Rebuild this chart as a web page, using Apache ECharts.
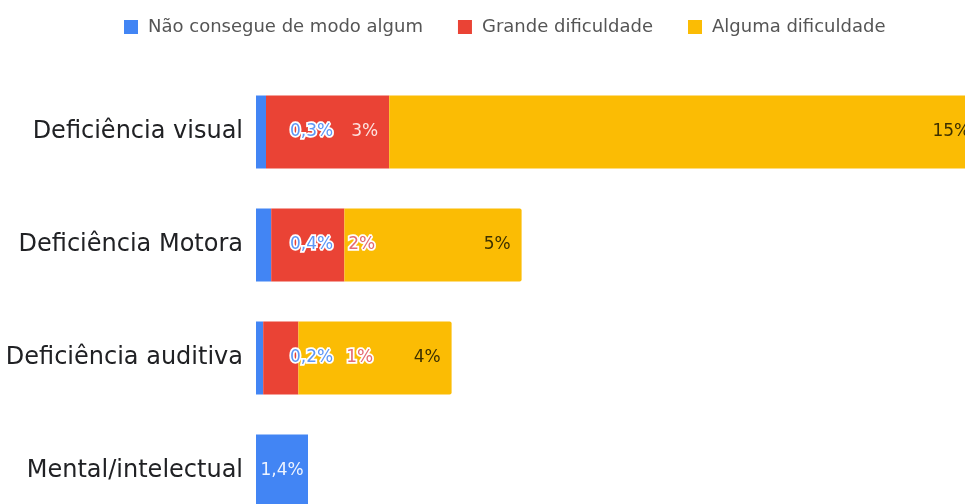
<!DOCTYPE html>
<html>
<head>
<meta charset="utf-8">
<script src="https://cdn.jsdelivr.net/npm/echarts@6/dist/echarts.min.js"></script>
<style>
  html, body { margin: 0; padding: 0; background: #fff; }
  #chartDiv { width: 965px; height: 504px; }
</style>
</head>
<body>
<div id="chartDiv"></div>
<script>
var categories = ["Deficiência visual", "Deficiência Motora", "Deficiência auditiva", "Mental/intelectual"];
var seriesNames = ["Não consegue de modo algum", "Grande dificuldade", "Alguma dificuldade"];

// bar lengths (percent)
var naoConsegue = [0.25, 0.38, 0.18, 1.3];
var grande = [3.08, 1.83, 0.88, null];
var alguma = [14.8, 4.43, 3.83, null];

// texts printed on the bars
var naoConsegueLabels = ["0,3%", "0,4%", "0,2%", "1,4%"];
var grandeLabels = ["3%", "2%", "1%", ""];
var algumaLabels = ["15%", "5%", "4%", ""];

var colors = ["#4285f4", "#ea4335", "#fbbc04"];
var font = "DejaVu Sans";

var halo = { textBorderColor: "#fff", textBorderWidth: 3.5 };

var chartDiv = document.getElementById("chartDiv");
var myChart = echarts.init(chartDiv);

function withLabels(vals, texts, labelFor) {
  return vals.map(function (v, i) {
    var lab = labelFor(i);
    lab.formatter = texts[i];
    return { value: v, label: lab };
  });
}

var blueData = withLabels(naoConsegue, naoConsegueLabels, function (i) {
  if (i === 3) return { position: "inside", color: "#eef4ff" };
  return Object.assign({ position: "insideLeft", distance: 34, color: "#5e97f6" }, halo);
});

var redData = withLabels(grande, grandeLabels, function (i) {
  if (i === 0) return { position: "insideRight", distance: 11, color: "#fde2df" };
  var d = i === 1 ? 77 : 83;
  return Object.assign({ position: "insideLeft", distance: d, color: "#e56b73" }, halo);
});

var yellowData = withLabels(alguma, algumaLabels, function (i) {
  return { position: "insideRight", distance: 11, color: "#3d3000" };
});

var option = {
  backgroundColor: "#fff",
  animation: false,
  color: colors,
  textStyle: { fontFamily: font },
  legend: {
    left: 119,
    top: 13,
    itemWidth: 14,
    itemHeight: 14,
    itemGap: 35,
    icon: "rect",
    textStyle: { fontSize: 18, color: "#555", fontFamily: font, padding: [0, 0, 0, 5] },
    data: seriesNames
  },
  // the chart runs past the right edge, as in the picture
  grid: { left: 256, top: 75.5, width: 800, height: 452, outerBoundsMode: "none" },
  xAxis: {
    type: "value",
    min: 0,
    max: 20,
    show: false
  },
  yAxis: {
    type: "category",
    inverse: true,
    data: categories,
    axisLine: { show: false },
    axisTick: { show: false },
    axisLabel: { fontSize: 24, color: "#202124", margin: 13, fontFamily: font }
  },
  series: [
    {
      name: seriesNames[0],
      type: "bar",
      stack: "total",
      barWidth: 73,
      label: { show: true, fontSize: 17, fontFamily: font },
      data: blueData
    },
    {
      name: seriesNames[1],
      type: "bar",
      stack: "total",
      barWidth: 73,
      label: { show: true, fontSize: 17, fontFamily: font },
      data: redData
    },
    {
      name: seriesNames[2],
      type: "bar",
      stack: "total",
      barWidth: 73,
      itemStyle: { borderRadius: [0, 2, 2, 0] },
      label: { show: true, fontSize: 17, fontFamily: font },
      data: yellowData
    }
  ]
};

myChart.setOption(option);
</script>
</body>
</html>
